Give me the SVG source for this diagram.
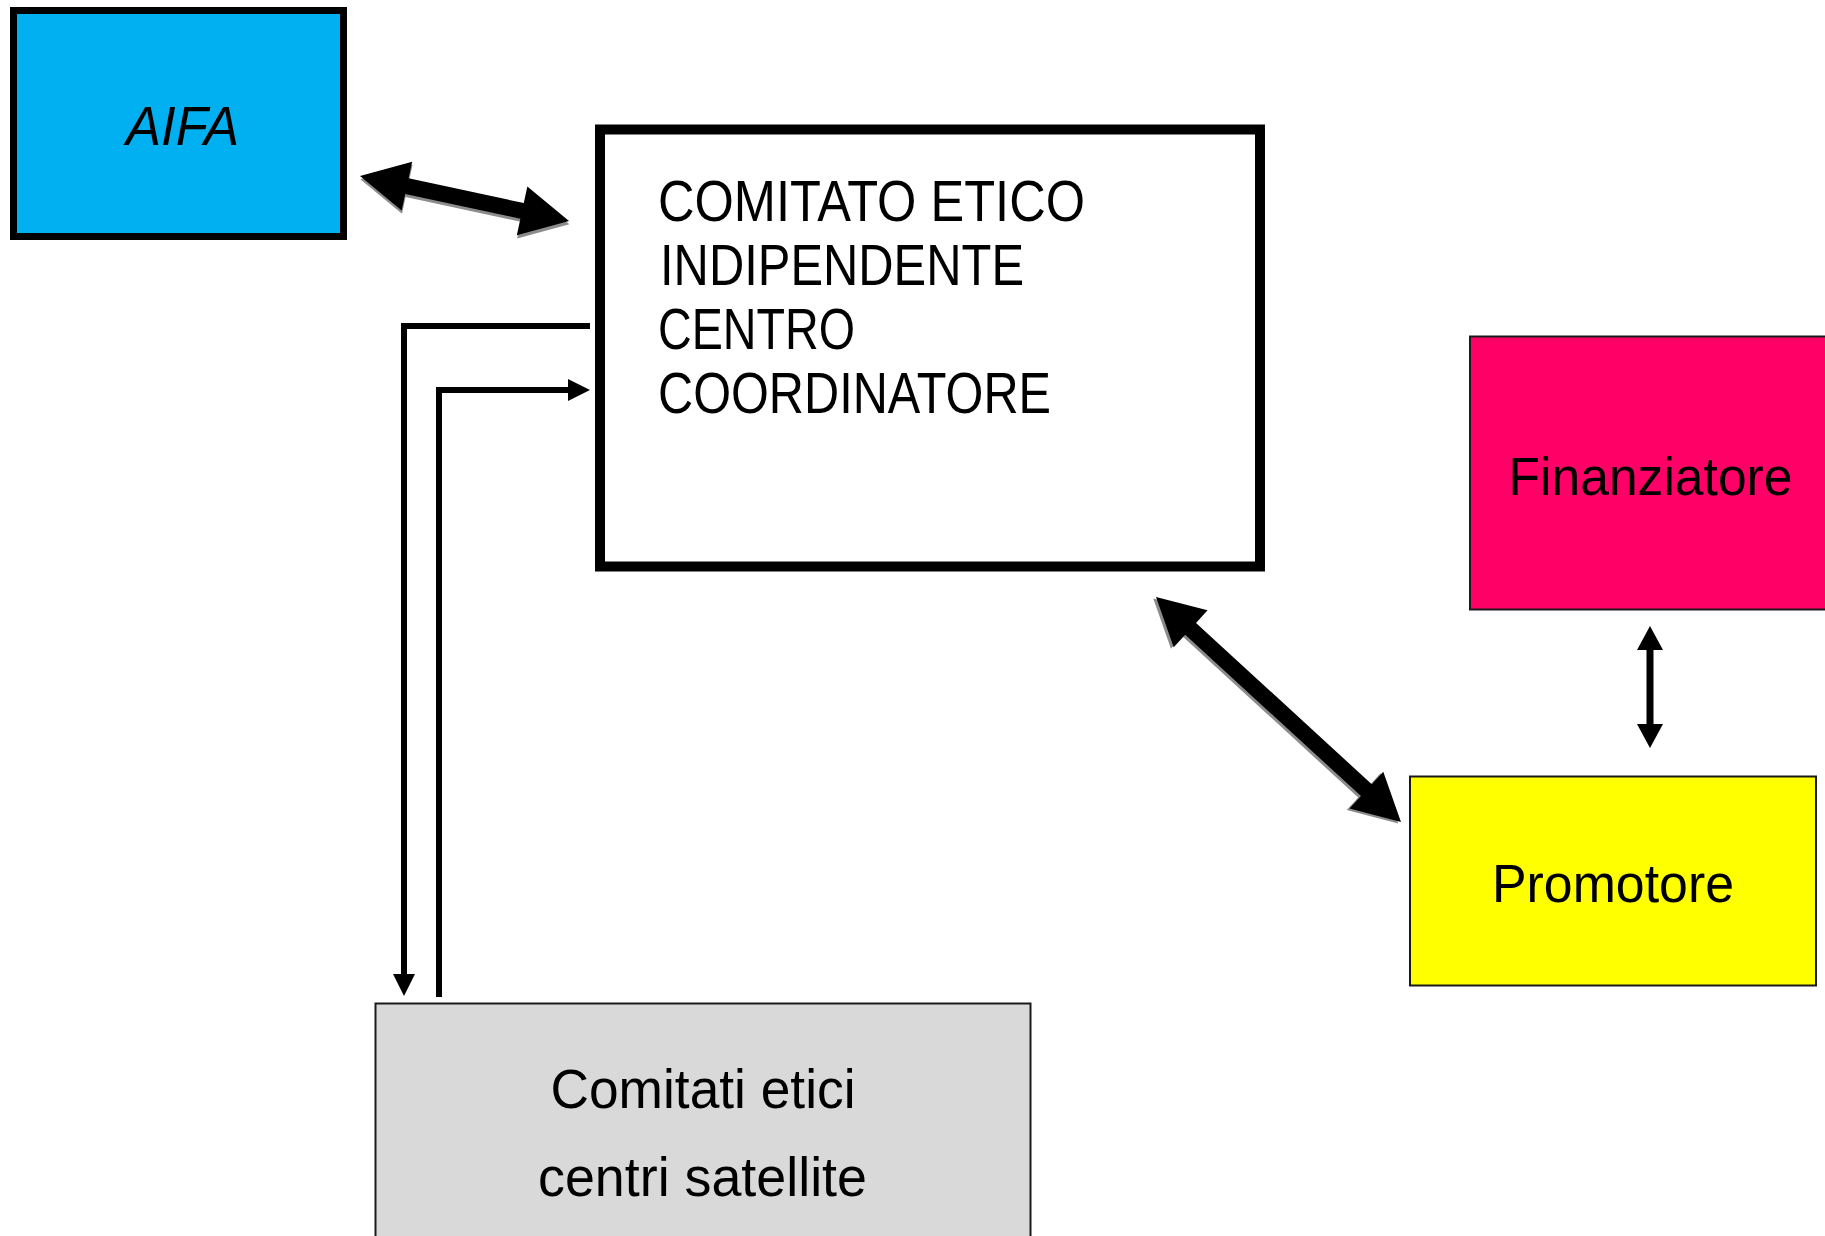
<svg xmlns="http://www.w3.org/2000/svg" width="1825" height="1236" viewBox="0 0 1825 1236">
  <style>
    .lbl { font-family: "Liberation Sans", Arial, sans-serif; fill: #000; }
    .thin { stroke: #1a1a1a; stroke-width: 2; }
    .conn { fill: none; stroke: #000; stroke-width: 6; stroke-linejoin: miter; }
    .big { fill: #000; }
    .shadow { fill: #8c8c8c; }
  </style>
  <defs>
    <marker id="ah" markerUnits="userSpaceOnUse" markerWidth="22" markerHeight="22" viewBox="0 0 22 22" refX="0" refY="11" orient="auto">
      <path d="M0,0 L22,11 L0,22 z" fill="#000"/>
    </marker>
  </defs>
  <rect width="1825" height="1236" fill="#fff"/>

  <g id="aifa">
    <rect x="13.5" y="10.5" width="330" height="226" fill="#00B0F0" stroke="#000" stroke-width="7"/>
    <text class="lbl" x="126" y="145" font-size="56" font-style="italic" textLength="113" lengthAdjust="spacingAndGlyphs">AIFA</text>
  </g>

  <g id="comitato-centro">
    <rect x="600" y="129.5" width="660" height="437" fill="#fff" stroke="#000" stroke-width="10"/>
    <text class="lbl" x="658" y="221" font-size="57" textLength="427" lengthAdjust="spacingAndGlyphs">COMITATO ETICO</text>
    <text class="lbl" x="660" y="285" font-size="57" textLength="364" lengthAdjust="spacingAndGlyphs">INDIPENDENTE</text>
    <text class="lbl" x="658" y="349" font-size="57" textLength="197" lengthAdjust="spacingAndGlyphs">CENTRO</text>
    <text class="lbl" x="658" y="413" font-size="57" textLength="393" lengthAdjust="spacingAndGlyphs">COORDINATORE</text>
  </g>

  <g id="finanziatore">
    <rect x="1470" y="336.5" width="365" height="273" fill="#FF0066" class="thin"/>
    <text class="lbl" x="1508.5" y="495" font-size="53" textLength="284" lengthAdjust="spacingAndGlyphs">Finanziatore</text>
  </g>

  <g id="promotore">
    <rect x="1410" y="776.5" width="406" height="209" fill="#FFFF00" class="thin"/>
    <text class="lbl" x="1492" y="902" font-size="53" textLength="242" lengthAdjust="spacingAndGlyphs">Promotore</text>
  </g>

  <g id="comitati-satellite">
    <rect x="375.5" y="1003.5" width="655" height="250" fill="#D9D9D9" class="thin"/>
    <text class="lbl" x="550.5" y="1108" font-size="55" textLength="305" lengthAdjust="spacingAndGlyphs">Comitati etici</text>
    <text class="lbl" x="538" y="1196" font-size="55" textLength="329" lengthAdjust="spacingAndGlyphs">centri satellite</text>
  </g>

  <g id="connectors">
    <g transform="translate(360,176) rotate(12.15)">
      <polygon class="shadow" transform="translate(1,3)" points="0,0 48,-25 48,-8 165.8,-8 165.8,-25 213.8,0 165.8,25 165.8,8 48,8 48,25"/>
      <polygon class="big" points="0,0 48,-25 48,-8 165.8,-8 165.8,-25 213.8,0 165.8,25 165.8,8 48,8 48,25"/>
    </g>
    <g transform="translate(1156,597) rotate(42.56)">
      <polygon class="shadow" transform="translate(-1,3)" points="0,0 47,-25 47,-8 285.6,-8 285.6,-25 332.6,0 285.6,25 285.6,8 47,8 47,25"/>
      <polygon class="big" points="0,0 47,-25 47,-8 285.6,-8 285.6,-25 332.6,0 285.6,25 285.6,8 47,8 47,25"/>
    </g>
    <polygon class="big" points="1650,626 1663,650 1653.5,650 1653.5,724 1663,724 1650,748 1637,724 1646.5,724 1646.5,650 1637,650"/>
    <path class="conn" d="M590,326 H404 V974" marker-end="url(#ah)"/>
    <path class="conn" d="M439,997 V390 H568" marker-end="url(#ah)"/>
  </g>
</svg>
